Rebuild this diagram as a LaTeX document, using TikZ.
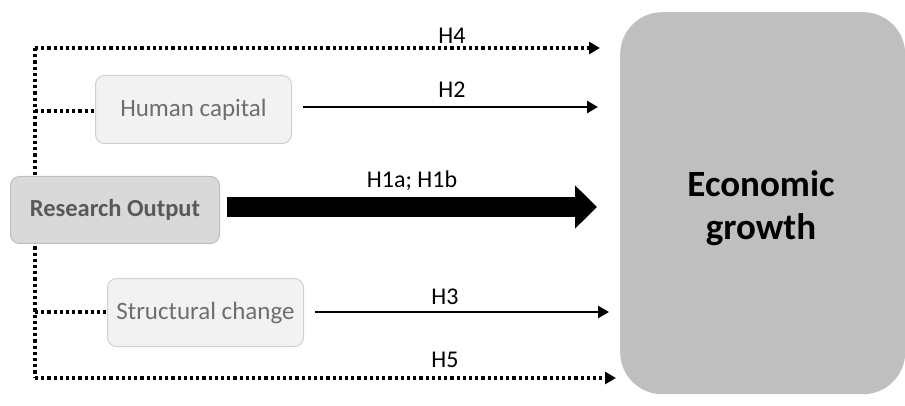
\documentclass[tikz,border=0pt]{standalone}
\usepackage{fontspec}
\setmainfont{Carlito}
\usetikzlibrary{arrows.meta}
\definecolor{bigbox}{HTML}{BFBFBF}
\definecolor{midfill}{HTML}{D9D9D9}
\definecolor{midline}{HTML}{BFBFBF}
\definecolor{lightfill}{HTML}{F2F2F2}
\definecolor{lightline}{HTML}{D0D0D0}
\definecolor{darktext}{HTML}{595959}
\definecolor{greytext}{HTML}{6E6E6E}
\begin{document}
\begin{tikzpicture}[x=1pt,y=-1pt,
  softbox/.style={draw=lightline,fill=lightfill,line width=1pt,rounded corners=9pt,
    minimum width=196pt,minimum height=68pt,text=greytext,font=\fontsize{25}{28}\selectfont,anchor=north west},
  mainbox/.style={draw=midline,fill=midfill,line width=1pt,rounded corners=9pt,
    minimum width=209pt,minimum height=67pt,text=darktext,font=\fontsize{24.5}{28}\selectfont\bfseries,anchor=north west},
  dotline/.style={line width=3.2pt,dash pattern=on 3.2pt off 3pt},
  thinarrow/.style={line width=2.6pt,-{Triangle[length=11pt,width=12pt]}},
  dotarrow/.style={dotline,-{Triangle[length=11pt,width=12pt]}},
  lab/.style={font=\fontsize{24}{26}\selectfont,text=black,anchor=base,inner sep=0pt}]
\useasboundingbox (0,0) rectangle (905,406);
% big target box
\node[fill=bigbox,rounded corners=42pt,minimum width=285pt,minimum height=382pt,anchor=north west,
  inner sep=0pt] (eg) at (620,12) {};
\node[align=center,font=\fontsize{37}{43}\selectfont\bfseries,inner sep=0pt,anchor=base] (egt) at (761,240) {Economic\\growth};
% coordinates for dotted frame
\coordinate (c4) at (35,48);
\coordinate (c5) at (35,378);
\coordinate (h4end) at (600,48);
\coordinate (h5end) at (616,378);
\coordinate (hcj) at (35,111);
\coordinate (scj) at (35,312);
\coordinate (h2end) at (598,107);
\coordinate (h1end) at (597,207);
\coordinate (h3end) at (609,312);
% dotted lines
\draw[dotline] (c4) -- (c5);
\draw[dotarrow] (c4) -- (h4end);
\draw[dotarrow] (c5) -- (h5end);
% boxes
\node[softbox] (hc) at (95,75) {Human capital};
\node[softbox] (sc) at (107,278) {Structural change};
\node[mainbox] (ro) at (10,176) {Research Output};
\draw[dotline] (hcj) -- (hcj -| hc.west);
\draw[dotline] (scj) -- (scj -| sc.west);
% arrows
\draw[thinarrow] (hc.east |- h2end) ++(11,0) coordinate (h2s) (h2s) -- (h2end);
\draw[thinarrow] (sc.east |- h3end) ++(11,0) coordinate (h3s) (h3s) -- (h3end);
\draw[line width=20pt,-{Triangle[length=22pt,width=42pt]}] (ro.east |- h1end) ++(7,0) coordinate (h1s) (h1s) -- (h1end);
% labels
\node[lab] (l4) at (452,44) {H4};
\node[lab] (l2) at (452,98) {H2};
\node[lab] (l1) at (412,188) {H1a; H1b};
\node[lab] (l3) at (445,304) {H3};
\node[lab] (l5) at (445,367) {H5};
\end{tikzpicture}
\end{document}
